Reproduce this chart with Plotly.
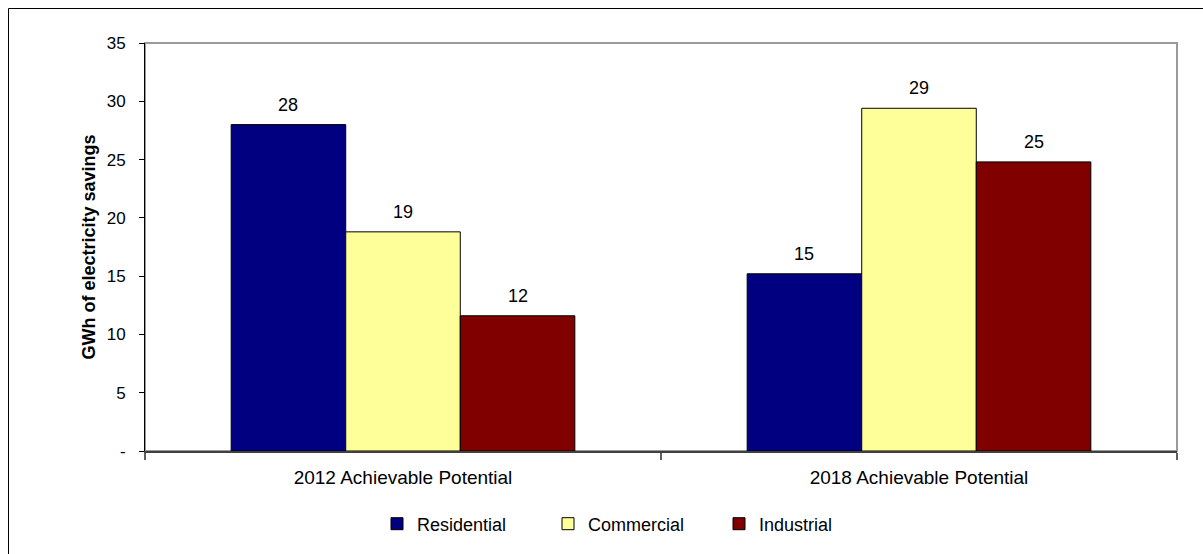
import plotly.graph_objects as go

# Achievable electricity savings potential by sector (GWh)
categories = ["2012 Achievable Potential", "2018 Achievable Potential"]
residential = [28.0, 15.2]
commercial = [18.8, 29.4]
industrial = [11.6, 24.8]

y_ticks = [0, 5, 10, 15, 20, 25, 30, 35]
y_tick_labels = ["-", "5", "10", "15", "20", "25", "30", "35"]

series = [
    ("Residential", residential, "#000080"),
    ("Commercial", commercial, "#FFFF99"),
    ("Industrial", industrial, "#800000"),
]

FONT = "Liberation Sans, Arial, sans-serif"

W, H = 1203, 554
L, R, T, B = 145, 26, 43, 103
pw, ph = W - L - R, H - T - B
BARGAP = 0.334

def px_x(p):
    return (p - L) / pw

def px_y(p):
    return (H - B - p) / ph

fig = go.Figure()
annotations = []
n = len(series)
slot_px = pw / len(categories)
bar_px = slot_px * (1 - BARGAP) / n
for k, (name, values, color) in enumerate(series):
    fig.add_trace(go.Bar(
        name=name,
        x=categories,
        y=values,
        marker=dict(color=color, line=dict(color="#000000", width=1)),
    ))
    # value labels above each bar
    for cat, v in zip(categories, values):
        annotations.append(dict(
            x=cat, y=v, xref="x", yref="y",
            text=f"{v:.0f}", showarrow=False,
            xshift=(k - (n - 1) / 2) * bar_px, yshift=20,
            font=dict(family=FONT, size=18, color="#000000"),
        ))

shapes = [
    # plot-area border
    dict(type="rect", xref="paper", yref="paper", x0=0, x1=1, y0=0, y1=1,
         line=dict(color="#9a9a9a", width=2), layer="below"),
    # outer chart frame
    dict(type="rect", xref="paper", yref="paper",
         x0=px_x(8.5), x1=px_x(W + 10), y0=px_y(H + 10), y1=px_y(8.5),
         line=dict(color="#000000", width=1), layer="below"),
]

fig.update_layout(
    width=W, height=H,
    margin=dict(l=L, r=R, t=T, b=B),
    paper_bgcolor="white", plot_bgcolor="white",
    barmode="group", bargap=BARGAP, bargroupgap=0,
    font=dict(family=FONT, size=18, color="#000000"),
    showlegend=True,
    legend=dict(
        orientation="h", x=px_x(377), xanchor="left", y=px_y(524), yanchor="middle",
        font=dict(family=FONT, size=18, color="#000000"),
        entrywidth=126, itemwidth=30,
    ),
    shapes=shapes,
    annotations=annotations,
    xaxis=dict(
        showline=True, linecolor="#404040", linewidth=2,
        ticks="outside", tickson="boundaries", ticklen=7, tickcolor="#606060",
        tickwidth=2, showgrid=False,
        ticklabelstandoff=8,
        tickfont=dict(family=FONT, size=19, color="#000000"),
    ),
    yaxis=dict(
        range=[0, 35], tickvals=y_ticks, ticktext=y_tick_labels,
        showline=True, linecolor="#000000", linewidth=1,
        ticks="outside", ticklen=5, tickcolor="#000000",
        showgrid=False, zeroline=False,
        ticklabelstandoff=10,
        tickfont=dict(family=FONT, size=17, color="#000000"),
        title=dict(text="<b>GWh of electricity savings</b>", standoff=6,
                   font=dict(family=FONT, size=18, color="#000000")),
    ),
)

fig.write_html("out.html")
